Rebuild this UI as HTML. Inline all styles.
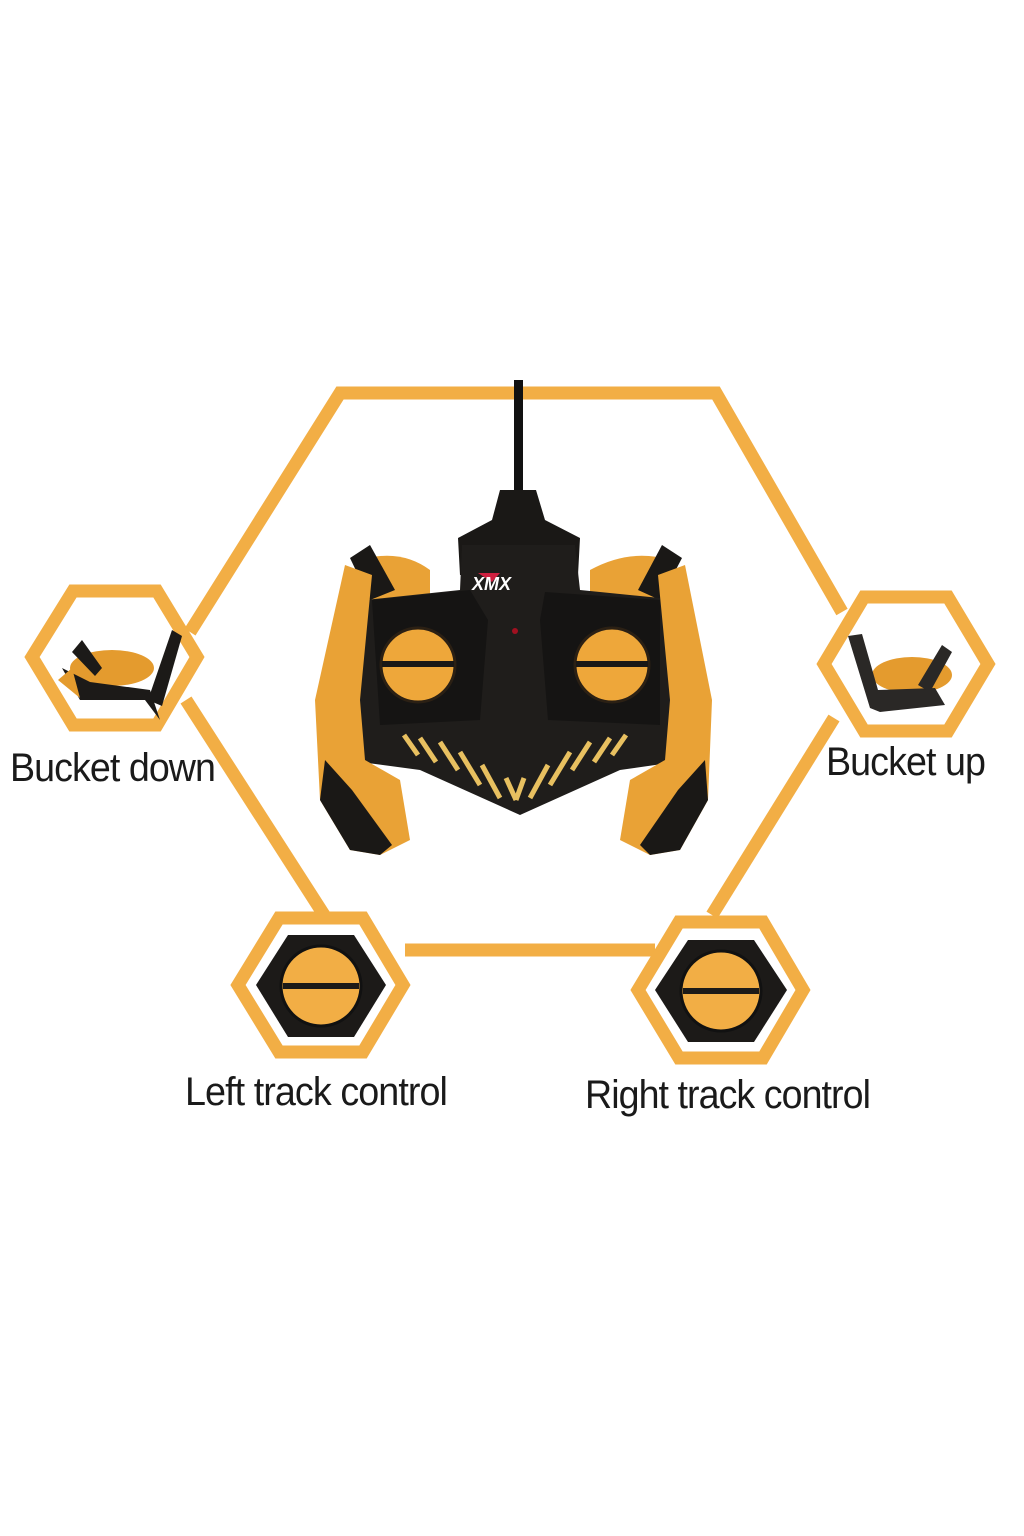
<!DOCTYPE html>
<html><head><meta charset="utf-8"><style>
html,body{margin:0;padding:0;background:#fff;}
svg{display:block;}
text{font-family:"Liberation Sans Narrow","Liberation Sans",sans-serif;fill:#1a1a1a;font-size:40px;letter-spacing:-1px;}
</style></head><body>
<svg width="1024" height="1536" viewBox="0 0 1024 1536" xmlns="http://www.w3.org/2000/svg">
<rect width="1024" height="1536" fill="#fff"/>
<g fill="none" stroke="#F2AE45" stroke-width="13" stroke-linejoin="miter">
  <!-- big hex connectors -->
  <polyline points="190,632 340,393 716,393 842,612"/>
  <polyline points="186,700 326,918"/>
  <line x1="405" y1="950" x2="655" y2="950"/>
  <polyline points="834,718 712,915"/>
  <!-- small hexes -->
  <polygon points="32,657 73,591 157,591 197,657 157,725 73,725"/>
  <polygon points="824,664 864,597 948,597 988,664 948,731 864,731"/>
  <polygon points="238,985 279,918 363,918 403,985 363,1052 279,1052"/>
  <polygon points="638,990 679,922 763,922 803,990 763,1058 679,1058"/>
</g>
<!-- bottom knob icons -->
<g>
  <polygon points="256,985 288,935 354,935 386,985 354,1037 288,1037" fill="#1c1a18"/>
  <circle cx="321" cy="986" r="40" fill="#F2AE45" stroke="#111" stroke-width="3"/>
  <rect x="283" y="983" width="76" height="6" fill="#1c1a18"/>
  <polygon points="655,990 688,940 754,940 787,990 754,1042 688,1042" fill="#1c1a18"/>
  <circle cx="721" cy="991" r="40" fill="#F2AE45" stroke="#111" stroke-width="3"/>
  <rect x="683" y="988" width="76" height="6" fill="#1c1a18"/>
</g>
<!-- bucket down icon -->
<g>
  <ellipse cx="112" cy="668" rx="42" ry="18" fill="#E49B2E"/>
  <path d="M62,668 L80,700 L145,700 L160,720 L150,690 L90,682 Z" fill="#1c1a18"/>
  <path d="M72,652 L82,640 L102,668 L95,676 Z" fill="#1c1a18"/>
  <path d="M148,700 L172,630 L182,636 L162,706 Z" fill="#1c1a18"/>
  <path d="M58,680 L72,668 L80,698 Z" fill="#E49B2E"/>
</g>
<!-- bucket up icon -->
<g>
  <ellipse cx="912" cy="675" rx="40" ry="18" fill="#E49B2E"/>
  <path d="M848,636 L862,634 L878,690 L935,688 L945,705 L880,712 L870,708 Z" fill="#2a2826"/>
  <path d="M918,685 L942,645 L952,652 L930,692 Z" fill="#2a2826"/>
</g>
<!-- controller -->
<g>
  <rect x="514" y="380" width="9" height="110" fill="#111"/>
  <path d="M500,490 L536,490 L545,520 L580,538 L578,575 L460,575 L458,538 L492,520 Z" fill="#1a1816"/>
  <!-- orange back lobes -->
  <path d="M360,560 Q400,548 430,570 L430,640 L360,640 Z" fill="#E9A236"/>
  <path d="M590,570 Q630,548 670,560 L670,640 L590,640 Z" fill="#E9A236"/>
  <!-- horn tips -->
  <path d="M350,558 L370,545 L395,590 L370,600 Z" fill="#1a1816"/>
  <path d="M662,545 L682,558 L660,600 L638,590 Z" fill="#1a1816"/>
  <!-- body -->
  <path d="M365,600 L460,590 L462,545 L575,545 L580,590 L680,600 L700,700 L690,760 L620,770 L520,815 L420,770 L345,760 L340,700 Z" fill="#1f1d1b"/>
  <!-- grips -->
  <path d="M345,565 L372,575 L360,700 L365,760 L400,780 L410,840 L380,855 L350,850 L320,800 L315,700 Z" fill="#E9A236"/>
  <path d="M320,800 L350,850 L380,855 L392,845 L352,790 L325,760 Z" fill="#1a1816"/>
  <path d="M685,565 L658,575 L670,700 L665,760 L630,780 L620,840 L650,855 L680,850 L708,800 L712,700 Z" fill="#E9A236"/>
  <path d="M708,800 L680,850 L650,855 L640,845 L678,790 L705,760 Z" fill="#1a1816"/>
  <!-- panels -->
  <path d="M372,600 L470,590 L488,620 L480,720 L380,725 Z" fill="#151413"/>
  <path d="M660,600 L545,592 L540,620 L548,720 L660,725 Z" fill="#151413"/>
  <!-- knobs -->
  <circle cx="418" cy="665" r="37" fill="#EEA73A" stroke="#2b2014" stroke-width="3"/>
  <rect x="382" y="661" width="72" height="6" fill="#1a1816"/>
  <circle cx="612" cy="665" r="37" fill="#EEA73A" stroke="#2b2014" stroke-width="3"/>
  <rect x="576" y="661" width="72" height="6" fill="#1a1816"/>
  <circle cx="515" cy="631" r="3" fill="#a01020"/>
  <!-- logo -->
  <path d="M478,573 L500,573 L492,582 Z" fill="#d02040"/>
  <text x="472" y="590" style="font-size:18px;font-weight:bold;font-style:italic;fill:#fff;letter-spacing:0">XMX</text>
  <!-- stripes -->
  <g stroke="#E8C060" stroke-width="5">
    <line x1="404" y1="735" x2="418" y2="755"/><line x1="420" y1="738" x2="436" y2="762"/>
    <line x1="440" y1="742" x2="458" y2="770"/><line x1="460" y1="752" x2="480" y2="785"/>
    <line x1="482" y1="765" x2="500" y2="798"/><line x1="506" y1="778" x2="516" y2="800"/>
    <line x1="626" y1="735" x2="612" y2="755"/><line x1="610" y1="738" x2="594" y2="762"/>
    <line x1="590" y1="742" x2="572" y2="770"/><line x1="570" y1="752" x2="550" y2="785"/>
    <line x1="548" y1="765" x2="530" y2="798"/><line x1="524" y1="778" x2="516" y2="800"/>
  </g>
</g>
<!-- labels -->
<text x="10" y="781" textLength="205" lengthAdjust="spacingAndGlyphs">Bucket down</text>
<text x="826" y="775" textLength="159" lengthAdjust="spacingAndGlyphs">Bucket up</text>
<text x="185" y="1105" textLength="262" lengthAdjust="spacingAndGlyphs">Left track control</text>
<text x="585" y="1108" textLength="285" lengthAdjust="spacingAndGlyphs">Right track control</text>
</svg>
</body></html>
